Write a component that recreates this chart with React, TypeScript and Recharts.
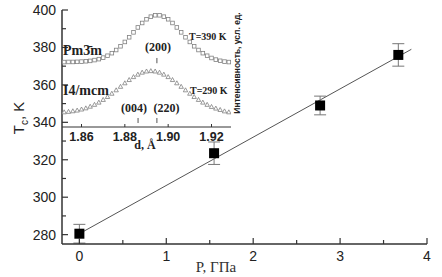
import React from 'react';
import { ComposedChart, Scatter, Line, XAxis, YAxis, ErrorBar, ReferenceLine } from 'recharts';

// ---------- main plot data ----------
const pressure = [0, 1.55, 2.77, 3.67];
const tcValues = [280.5, 323.5, 349, 376];
const tcErrors = [5, 6, 5, 6];
const fitPressure = [0, 3.82];
const fitTc = [280.5, 379];
const pTicks = [0, 0.5, 1, 1.5, 2, 2.5, 3, 3.5, 4];
const tcTicks = [280, 290, 300, 310, 320, 330, 340, 350, 360, 370, 380, 390, 400];

// ---------- inset data ----------
const dValues = [
  1.852, 1.854, 1.856, 1.858, 1.86, 1.862, 1.864, 1.866, 1.868, 1.87,
  1.872, 1.874, 1.876, 1.878, 1.88, 1.882, 1.884, 1.886, 1.888, 1.89,
  1.892, 1.894, 1.896, 1.898, 1.9, 1.902, 1.904, 1.906, 1.908, 1.91,
  1.912, 1.914, 1.916, 1.918, 1.92, 1.922, 1.924, 1.926, 1.928,
];
const cubicIntensity = [
  55.5, 55.6, 55.6, 55.7, 55.9, 56.2, 56.5, 57.2, 58.0, 59.3,
  60.9, 63.1, 65.8, 69.0, 72.7, 76.7, 80.9, 85.1, 88.9, 92.1,
  94.3, 95.5, 95.5, 94.3, 92.1, 88.9, 85.1, 80.9, 76.7, 72.7,
  69.0, 65.8, 63.1, 60.9, 59.0, 57.6, 56.6, 55.9, 55.5,
];
const tetraIntensity = [
  12.8, 13.2, 13.7, 14.3, 15.2, 16.2, 17.6, 19.2, 21.1, 23.4,
  25.9, 28.7, 31.6, 34.6, 37.6, 40.4, 42.9, 45.0, 46.7, 47.7,
  48.0, 47.7, 46.7, 45.0, 42.9, 40.4, 37.6, 34.6, 31.6, 28.7,
  25.9, 23.4, 21.1, 19.2, 17.4, 16.0, 14.8, 13.6, 12.8,
];
const dTicks = [1.86, 1.88, 1.9, 1.92];
const peakMarks = [
  { d: 1.8948, top: 59, bottom: 54.5 },
  { d: 1.8861, top: 7.7, bottom: 3.4 },
  { d: 1.8948, top: 7.7, bottom: 3.4 },
];

const mainPoints = pressure.map((p, i) => ({ p, tc: tcValues[i], err: tcErrors[i] }));
const fitLine = fitPressure.map((p, i) => ({ p, tc: fitTc[i] }));
const insetData = dValues.map((d, i) => ({ d, cubic: cubicIntensity[i], tetra: tetraIntensity[i] }));

const AXIS = '#333';
const SANS = 'Liberation Sans, Arial, sans-serif';
const SERIF = 'Liberation Serif, Times New Roman, serif';

const BottomTick = (props: any) => {
  const { x, y, payload } = props;
  const major = Number.isInteger(payload.value);
  return (
    <g>
      <line x1={x} x2={x} y1={y} y2={y - (major ? 6 : 4)} stroke={AXIS} strokeWidth={1.2} />
      {major && (
        <text x={x} y={y + 17} textAnchor="middle" fontSize={14} fontFamily={SANS} fill="#222">
          {payload.value}
        </text>
      )}
    </g>
  );
};
const TopTick = (props: any) => {
  const { x, y, payload } = props;
  const major = Number.isInteger(payload.value);
  return <line x1={x} x2={x} y1={y} y2={y + (major ? 6 : 4)} stroke={AXIS} strokeWidth={1.2} />;
};
const LeftTick = (props: any) => {
  const { x, y, payload } = props;
  const major = payload.value % 20 === 0;
  return (
    <g>
      <line x1={x} x2={x + (major ? 6 : 4)} y1={y} y2={y} stroke={AXIS} strokeWidth={1.2} />
      {major && (
        <text x={x - 6} y={y + 5} textAnchor="end" fontSize={14} fontFamily={SANS} fill="#222">
          {payload.value}
        </text>
      )}
    </g>
  );
};
const RightTick = (props: any) => {
  const { x, y } = props;
  return <line x1={x} x2={x - 5} y1={y} y2={y} stroke={AXIS} strokeWidth={1.2} />;
};
const InsetBottomTick = (props: any) => {
  const { x, y, payload } = props;
  return (
    <g>
      <line x1={x} x2={x} y1={y} y2={y - 3} stroke={AXIS} strokeWidth={1} />
      <text x={x} y={y + 14} textAnchor="middle" fontSize={12.5} fontWeight="bold" fontFamily={SANS} fill="#222">
        {Number(payload.value).toFixed(2)}
      </text>
    </g>
  );
};

const SquareDot = (p: any) => (
  <rect key={`s${p.index}`} x={p.cx - 1.8} y={p.cy - 1.8} width={3.6} height={3.6} fill="#fff" stroke="#808080" strokeWidth={0.8} />
);
const TriDot = (p: any) => (
  <polygon
    key={`t${p.index}`}
    points={`${p.cx},${p.cy - 2.2} ${p.cx + 2.2},${p.cy + 1.8} ${p.cx - 2.2},${p.cy + 1.8}`}
    fill="#fff"
    stroke="#808080"
    strokeWidth={0.8}
  />
);

const BigSquare = (p: any) => <rect x={p.cx - 5} y={p.cy - 5} width={10} height={10} fill="#000" />;

export default function App() {
  return (
    <div style={{ position: 'absolute', left: 0, top: 0, width: 442, height: 277, background: '#fff' }}>
      <div style={{ position: 'absolute', left: 0, top: 0 }}>
        <ComposedChart width={442} height={277} margin={{ top: 10, right: 15, bottom: 0, left: 0 }}>
          <XAxis xAxisId="b" dataKey="p" type="number" domain={[-0.2, 4]} ticks={pTicks} interval={0}
            orientation="bottom" height={33} tickSize={0} tickMargin={0} tickLine={false}
            axisLine={{ stroke: AXIS, strokeWidth: 1.5 }} tick={<BottomTick />} allowDataOverflow />
          <XAxis xAxisId="t" dataKey="p" type="number" domain={[-0.2, 4]} ticks={pTicks} interval={0}
            orientation="top" height={0} tickSize={0} tickMargin={0} tickLine={false}
            axisLine={{ stroke: AXIS, strokeWidth: 1.5 }} tick={<TopTick />} allowDataOverflow />
          <YAxis yAxisId="l" dataKey="tc" type="number" domain={[275, 400]} ticks={tcTicks} interval={0}
            orientation="left" width={62} tickSize={0} tickMargin={0} tickLine={false}
            axisLine={{ stroke: AXIS, strokeWidth: 1.5 }} tick={<LeftTick />} allowDataOverflow />
          <YAxis yAxisId="r" dataKey="tc" type="number" domain={[275, 400]} ticks={tcTicks} interval={0}
            orientation="right" width={0} tickSize={0} tickMargin={0} tickLine={false}
            axisLine={{ stroke: AXIS, strokeWidth: 1.5 }} tick={<RightTick />} allowDataOverflow />
          <Line xAxisId="b" yAxisId="l" data={fitLine} dataKey="tc" stroke="#555" strokeWidth={1}
            dot={false} isAnimationActive={false} />
          <Scatter xAxisId="b" yAxisId="l" data={mainPoints} dataKey="tc" shape={<BigSquare />} isAnimationActive={false}>
            <ErrorBar dataKey="err" direction="y" width={6} stroke="#777" strokeWidth={1} />
          </Scatter>
        </ComposedChart>
      </div>

      <div style={{ position: 'absolute', left: 52, top: 0 }}>
        <ComposedChart width={209} height={160} data={insetData} margin={{ top: 10, right: 30, bottom: 0, left: 10 }}>
          <XAxis xAxisId="b" dataKey="d" type="number" domain={[1.851, 1.929]} ticks={dTicks} interval={0}
            orientation="bottom" height={33} tickSize={0} tickMargin={0} tickLine={false}
            axisLine={{ stroke: AXIS, strokeWidth: 1 }} tick={<InsetBottomTick />} allowDataOverflow />
          <YAxis yAxisId="l" type="number" domain={[0, 100]} hide allowDataOverflow />
          <YAxis yAxisId="r" type="number" domain={[0, 100]} orientation="right" width={0} tick={false}
            tickLine={false} axisLine={{ stroke: AXIS, strokeWidth: 1 }} allowDataOverflow />
          <Line xAxisId="b" yAxisId="l" dataKey="cubic" stroke="none" dot={SquareDot} isAnimationActive={false} />
          <Line xAxisId="b" yAxisId="l" dataKey="tetra" stroke="none" dot={TriDot} isAnimationActive={false} />
          {peakMarks.map((m, i) => (
            <ReferenceLine key={i} xAxisId="b" yAxisId="l"
              segment={[{ x: m.d, y: m.bottom }, { x: m.d, y: m.top }]}
              stroke="#555" strokeWidth={1} />
          ))}
        </ComposedChart>
      </div>

      <svg width={442} height={277} style={{ position: 'absolute', left: 0, top: 0, pointerEvents: 'none' }}>
        <text transform="translate(24,118) rotate(-90)" textAnchor="middle" fontSize={15} fontFamily={SANS} fill="#222">
          T<tspan dy={4} fontSize={10}>c</tspan><tspan dy={-4}>, K</tspan>
        </text>
        <text x={216} y={272} textAnchor="middle" fontSize={15} fontFamily={SERIF} fill="#333">P, ГПа</text>
        <text transform="translate(240,63) rotate(-90)" textAnchor="middle" fontSize={8.5} fontWeight="bold"
          fontFamily={SANS} fill="#222">
          Интенсивность, усл. ед.
        </text>
        <g fontFamily={SERIF} fontWeight="bold" fill="#222">
          <text x={63} y={55} fontSize={14}>Pm3̄m</text>
          <text x={63} y={95} fontSize={14}>I4/mcm</text>
          <text x={158} y={51} fontSize={12} textAnchor="middle">(200)</text>
          <text x={189} y={40} fontSize={10}>T=390 K</text>
          <text x={190} y={94} fontSize={10}>T=290 K</text>
          <text x={134} y={112} fontSize={12} textAnchor="middle">(004)</text>
          <text x={166.5} y={112} fontSize={12} textAnchor="middle">(220)</text>
          <text x={145} y={149} fontSize={12} textAnchor="middle">d, Å</text>
        </g>
      </svg>
    </div>
  );
}
